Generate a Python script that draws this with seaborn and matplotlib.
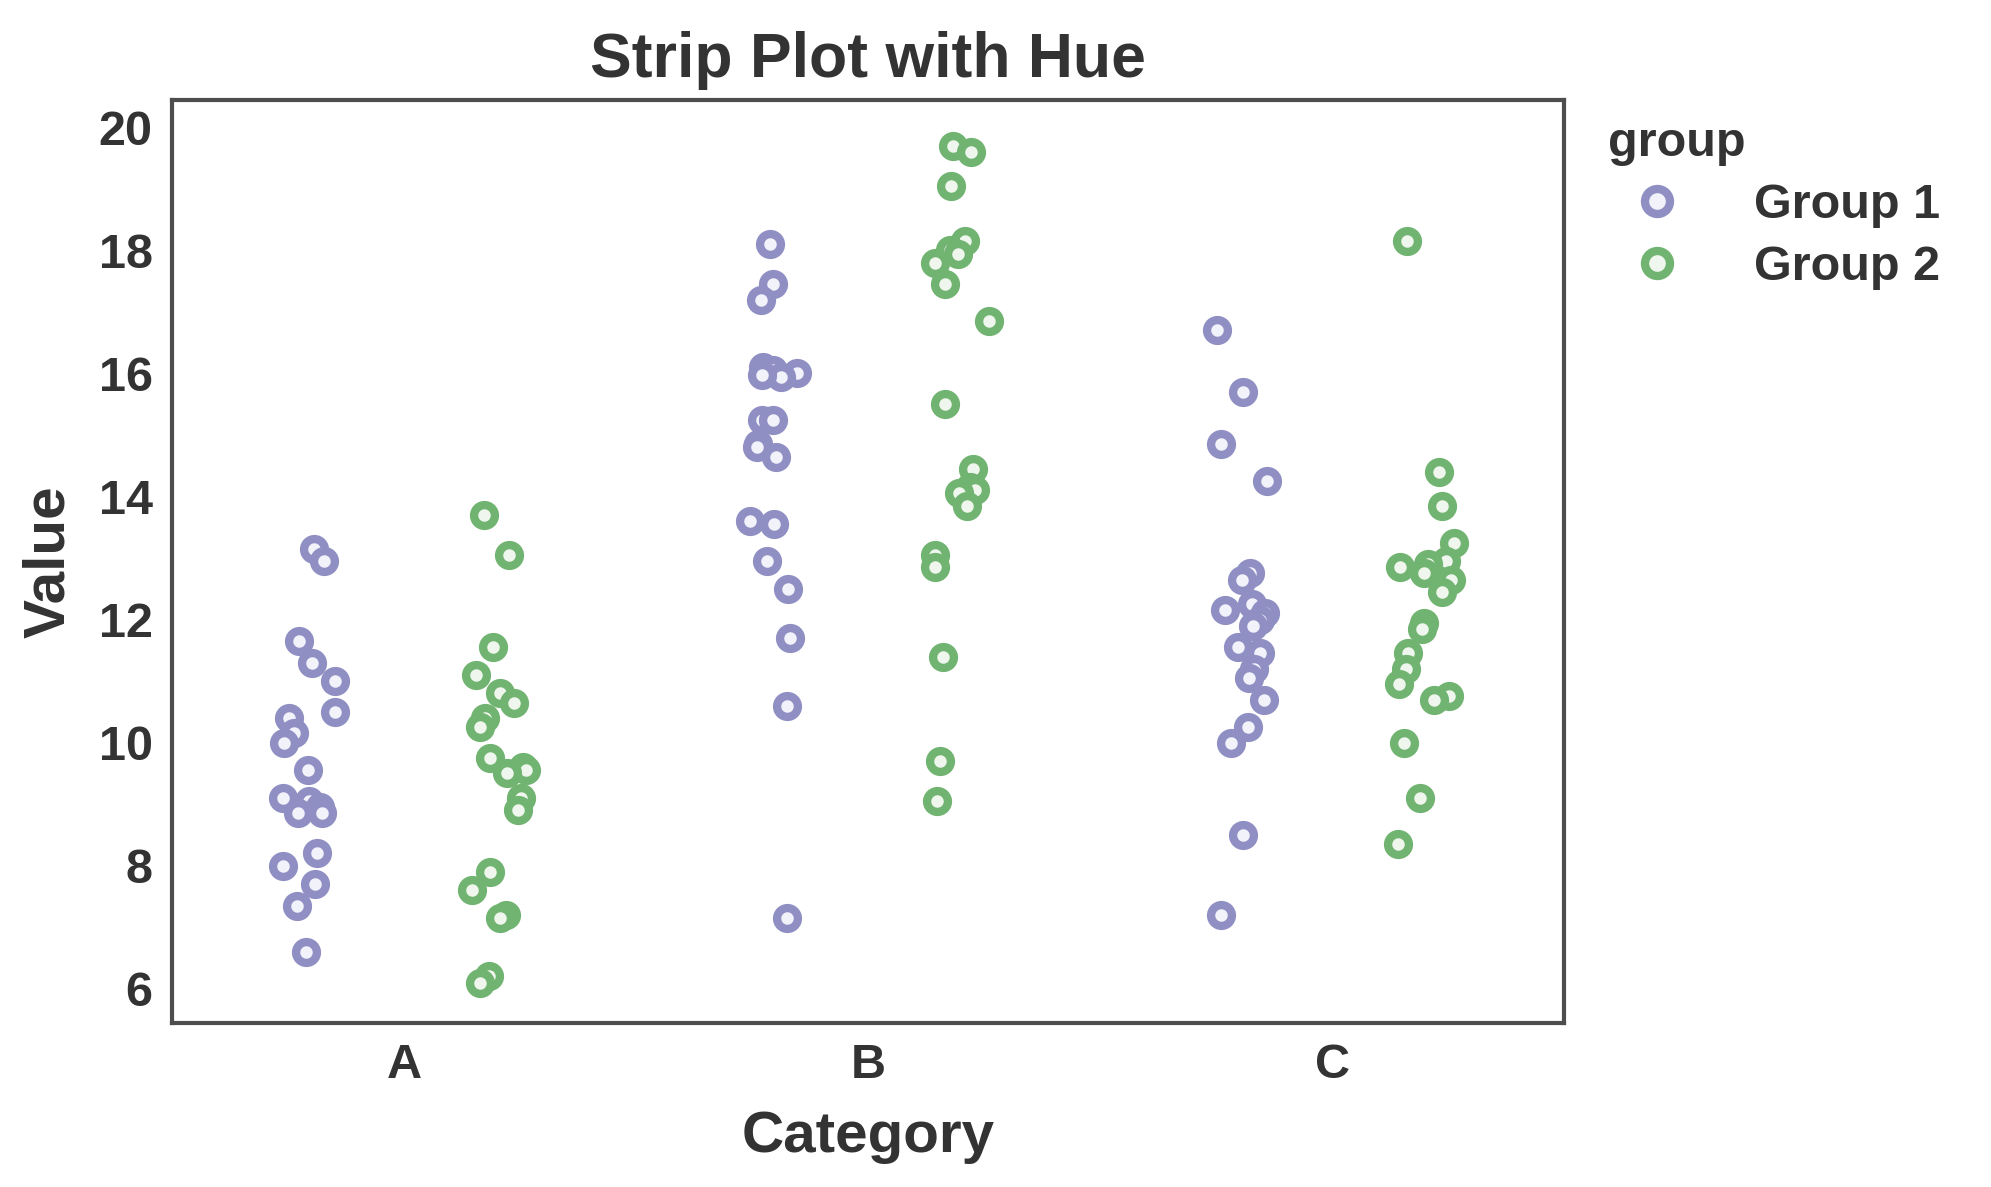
import numpy as np
import pandas as pd
import matplotlib
matplotlib.use("Agg")
import matplotlib.pyplot as plt
import seaborn as sns
from matplotlib.lines import Line2D

# values, 20 points per category / group
categories = ["A", "B", "C"]
groups = ["Group 1", "Group 2"]

a_group1 = [13.15, 12.95, 11.65, 11.3, 11.0, 10.5, 10.4, 10.15, 10.0, 9.55,
            9.1, 9.05, 8.95, 8.85, 8.85, 8.2, 8.0, 7.7, 7.35, 6.6]
a_group2 = [13.7, 13.05, 11.55, 11.1, 10.8, 10.65, 10.4, 10.25, 9.75, 9.6,
            9.55, 9.5, 9.1, 8.9, 7.9, 7.6, 7.2, 7.15, 6.2, 6.1]
b_group1 = [18.1, 17.45, 17.2, 16.1, 16.05, 16.0, 15.95, 15.98, 15.25, 15.25,
            14.85, 14.8, 14.65, 13.6, 13.55, 12.95, 12.5, 11.7, 10.6, 7.15]
b_group2 = [19.7, 19.6, 19.05, 18.15, 18.0, 17.95, 17.8, 17.45, 16.85, 15.5,
            14.45, 14.15, 14.1, 14.05, 13.85, 13.05, 12.85, 11.4, 9.7, 9.05]
c_group1 = [16.7, 15.7, 14.85, 14.25, 12.75, 12.65, 12.25, 12.15, 12.1, 12.0,
            11.9, 11.55, 11.45, 11.2, 11.05, 10.7, 10.25, 10.0, 8.5, 7.2]
c_group2 = [18.15, 14.4, 13.85, 13.25, 12.95, 12.9, 12.85, 12.75, 12.65, 12.45,
            11.95, 11.85, 11.45, 11.2, 10.95, 10.75, 10.7, 10.0, 9.1, 8.35]

edge_colors = {"Group 1": "#8f8fc4", "Group 2": "#71b371"}
face_colors = {"Group 1": "#f2f2fa", "Group 2": "#eef6ee"}
text_color = "#333333"

series = {
    ("A", "Group 1"): a_group1, ("A", "Group 2"): a_group2,
    ("B", "Group 1"): b_group1, ("B", "Group 2"): b_group2,
    ("C", "Group 1"): c_group1, ("C", "Group 2"): c_group2,
}
rows = []
for (cat, grp), vals in series.items():
    for v in vals:
        rows.append({"category": cat, "group": grp, "value": v})
df = pd.DataFrame(rows)

sns.set_theme(style="white")
plt.rcParams["font.family"] = ["Liberation Sans", "DejaVu Sans"]
plt.rcParams["font.weight"] = "bold"
plt.rcParams["text.color"] = text_color
plt.rcParams["axes.labelcolor"] = text_color
plt.rcParams["xtick.color"] = text_color
plt.rcParams["ytick.color"] = text_color

np.random.seed(3)
fig = plt.figure(figsize=(1991 / 200, 1187 / 200), dpi=200)
ax = fig.add_axes([0.0864, 0.138, 0.6993, 0.778])

sns.stripplot(data=df, x="category", y="value", hue="group",
              order=categories, hue_order=groups, dodge=True, jitter=0.13,
              palette=edge_colors, size=7.5, linewidth=3, legend=False, ax=ax)

# hollow-looking markers: coloured ring, pale face
for coll in ax.collections:
    fc = coll.get_facecolor()
    if len(fc) == 0:
        continue
    for grp, col in edge_colors.items():
        if np.allclose(fc[0][:3], matplotlib.colors.to_rgb(col), atol=0.02):
            coll.set_edgecolor(col)
            coll.set_facecolor(face_colors[grp])
            coll.set_linewidth(3)

ax.set_ylim(5.44, 20.45)
ax.set_yticks([6, 8, 10, 12, 14, 16, 18, 20])
ax.tick_params(axis="both", labelsize=17.5, length=0, pad=7)
for lab in ax.get_xticklabels() + ax.get_yticklabels():
    lab.set_fontweight("bold")

ax.set_title("Strip Plot with Hue", fontsize=22.5, fontweight="bold", pad=8)
ax.set_xlabel("Category", fontsize=21, fontweight="bold", labelpad=8)
ax.set_ylabel("Value", fontsize=21, fontweight="bold", labelpad=8)

for sp in ax.spines.values():
    sp.set_color("#4d4d4d")
    sp.set_linewidth(1.5)

handles = [Line2D([], [], linestyle="none", marker="o", markersize=9,
                  markeredgewidth=3, markeredgecolor=edge_colors[g],
                  markerfacecolor=face_colors[g]) for g in groups]
ax.legend(handles, groups, title="group", loc="upper left",
          bbox_to_anchor=(1.0, 1.024), frameon=False, alignment="left",
          labelspacing=0.35, handletextpad=1.0,
          prop={"size": 17.5, "weight": "bold"},
          title_fontproperties={"size": 17.5, "weight": "bold"})

fig.savefig("out.png", dpi=200)
